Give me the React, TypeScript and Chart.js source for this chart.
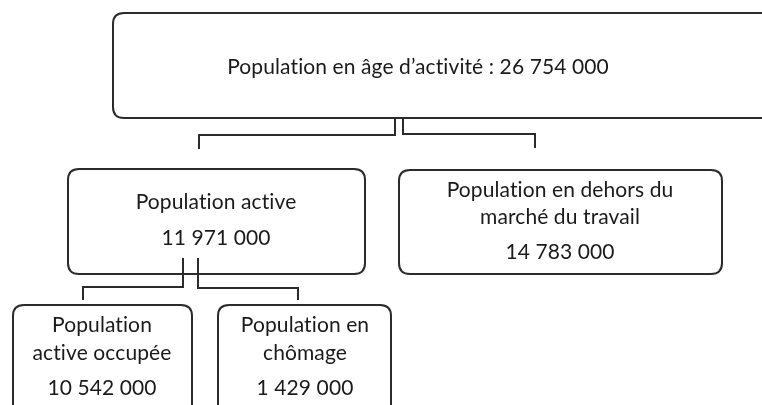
import React, { useEffect, useRef } from "react";
import { Chart, registerables } from "chart.js";

Chart.register(...registerables);

// ---- Data ----
const nodeNames: string[][] = [
  ["Population en âge d’activité"],
  ["Population active"],
  ["Population en dehors du", "marché du travail"],
  ["Population", "active occupée"],
  ["Population en", "chômage"],
];
const nodeValues: number[] = [26754000, 11971000, 14783000, 10542000, 1429000];
const inlineValue: boolean[] = [true, false, false, false, false];

// ---- Layout (diagram units = px of the 762x405 canvas) ----
const boxRects = [
  { x0: 113, y0: 13, x1: 776, y1: 118 },
  { x0: 68, y0: 169, x1: 365, y1: 274 },
  { x0: 399, y0: 170, x1: 722, y1: 274 },
  { x0: 13, y0: 305, x1: 192, y1: 420 },
  { x0: 218, y0: 305, x1: 391, y1: 420 },
];
const textX = [418, 216, 560, 102, 305];
const textY: number[][] = [[67], [202, 238], [190, 217, 252], [325, 353, 388], [325, 353, 388]];

const connectors: { x: number; y: number }[][] = [
  [{ x: 395, y: 118 }, { x: 395, y: 135 }, { x: 199, y: 135 }, { x: 199, y: 149 }],
  [{ x: 403, y: 118 }, { x: 403, y: 134 }, { x: 535, y: 134 }, { x: 535, y: 148 }],
  [{ x: 183, y: 258 }, { x: 183, y: 287 }, { x: 83, y: 287 }, { x: 83, y: 300 }],
  [{ x: 198, y: 258 }, { x: 198, y: 288 }, { x: 298, y: 288 }, { x: 298, y: 300 }],
];

const INK = "#2b2b2b";
const TEXT = "#1a1a1a";
const FONT = "21px Lato";

const fmt = (n: number) => n.toString().replace(/\B(?=(\d{3})+(?!\d))/g, " ");

function roundRect(ctx: CanvasRenderingContext2D, x0: number, y0: number, x1: number, y1: number, r: number) {
  ctx.beginPath();
  ctx.moveTo(x0 + r, y0);
  ctx.lineTo(x1 - r, y0);
  ctx.quadraticCurveTo(x1, y0, x1, y0 + r);
  ctx.lineTo(x1, y1 - r);
  ctx.quadraticCurveTo(x1, y1, x1 - r, y1);
  ctx.lineTo(x0 + r, y1);
  ctx.quadraticCurveTo(x0, y1, x0, y1 - r);
  ctx.lineTo(x0, y0 + r);
  ctx.quadraticCurveTo(x0, y0, x0 + r, y0);
  ctx.closePath();
}

const diagramPlugin = {
  id: "diagram",
  beforeDatasetsDraw(chart: any) {
    const { ctx, scales } = chart;
    const sx = scales.x, sy = scales.y;
    ctx.save();
    ctx.fillStyle = "#ffffff";
    ctx.fillRect(0, 0, chart.width, chart.height);
    ctx.strokeStyle = INK;
    ctx.lineWidth = 2;
    boxRects.forEach((b) => {
      roundRect(
        ctx,
        sx.getPixelForValue(b.x0),
        sy.getPixelForValue(b.y0),
        sx.getPixelForValue(b.x1),
        sy.getPixelForValue(b.y1),
        11
      );
      ctx.stroke();
    });
    ctx.restore();
  },
  afterDatasetsDraw(chart: any) {
    const { ctx, scales } = chart;
    const sx = scales.x, sy = scales.y;
    ctx.save();
    ctx.fillStyle = TEXT;
    ctx.font = FONT;
    try {
      (ctx as any).letterSpacing = "0.1px";
    } catch (e) {}
    ctx.textAlign = "center";
    ctx.textBaseline = "middle";
    nodeNames.forEach((lines, i) => {
      const all = inlineValue[i]
        ? [lines[0] + " : " + fmt(nodeValues[i])]
        : [...lines, fmt(nodeValues[i])];
      all.forEach((t, j) => {
        ctx.fillText(t, sx.getPixelForValue(textX[i]), sy.getPixelForValue(textY[i][j]));
      });
    });
    ctx.restore();
  },
};

export default function App() {
  const ref = useRef<HTMLCanvasElement | null>(null);
  useEffect(() => {
    if (!ref.current) return;
    const chart = new Chart(ref.current, {
      type: "scatter",
      data: {
        datasets: connectors.map((pts) => ({
          data: pts,
          showLine: true,
          borderColor: INK,
          borderWidth: 2,
          pointRadius: 0,
          fill: false,
          tension: 0,
          clip: false as any,
        })),
      },
      options: {
        animation: false,
        responsive: false,
        devicePixelRatio: 1,
        layout: { padding: 0 },
        plugins: { legend: { display: false }, tooltip: { enabled: false } },
        scales: {
          x: { type: "linear", min: 0, max: 762, display: false },
          y: { type: "linear", min: 0, max: 405, reverse: true, display: false },
        },
      },
      plugins: [diagramPlugin],
    });
    return () => chart.destroy();
  }, []);
  return (
    <div style={{ position: "absolute", left: 0, top: 0, width: 762, height: 405, background: "#fff" }}>
      <canvas ref={ref} width={762} height={405} />
    </div>
  );
}
